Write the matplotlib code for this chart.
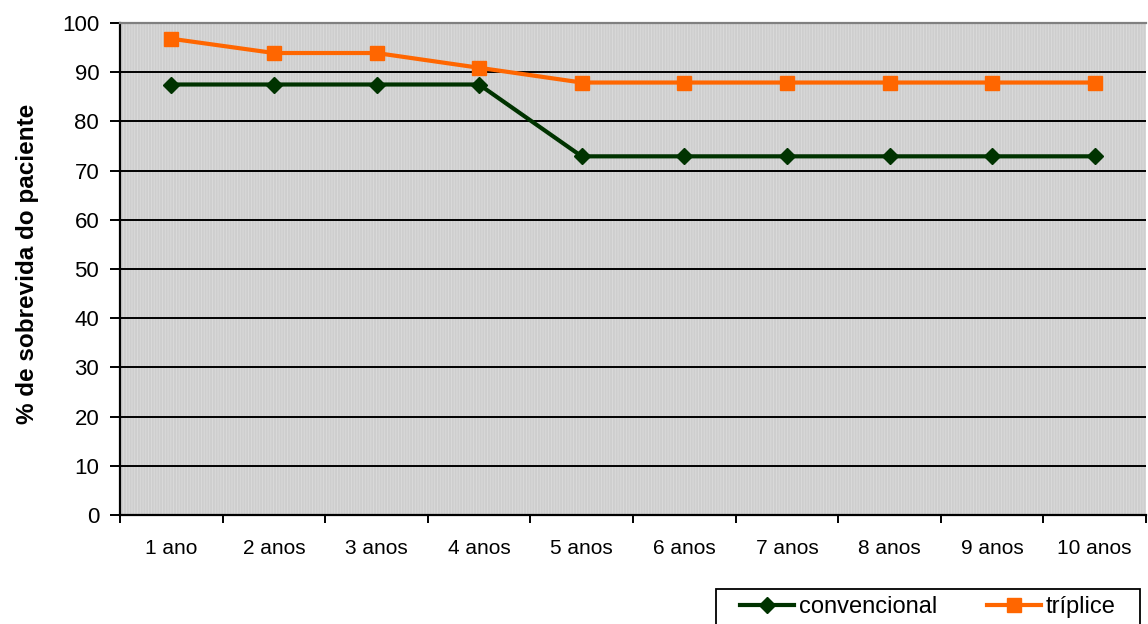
import matplotlib.pyplot as plt
from matplotlib.patches import Rectangle

plt.rcParams['font.family'] = ['Liberation Sans', 'DejaVu Sans']
plt.rcParams['hatch.linewidth'] = 0.6

anos = ['1 ano', '2 anos', '3 anos', '4 anos', '5 anos',
        '6 anos', '7 anos', '8 anos', '9 anos', '10 anos']
convencional = [87.5, 87.5, 87.5, 87.5, 72.9, 72.9, 72.9, 72.9, 72.9, 72.9]
triplice = [96.8, 93.9, 93.9, 90.9, 87.9, 87.9, 87.9, 87.9, 87.9, 87.9]
yticks = list(range(0, 101, 10))

verde = '#003300'
laranja = '#ff6600'

W, H = 1148, 624
fig = plt.figure(figsize=(W / 100, H / 100), dpi=100)
ax = fig.add_axes([120 / W, 1 - 515 / H, 1026 / W, 492 / H])

# fundo cinza com padrao fino
ax.set_facecolor('#cecece')
ax.add_patch(Rectangle((0, 0), 1, 1, transform=ax.transAxes, facecolor='none',
                       edgecolor='#dcdcdc', hatch='||||||', linewidth=0, zorder=0))

x = list(range(len(anos)))
for v in yticks[1:]:
    ax.axhline(v, color='black', lw=1.4, zorder=1)

ax.plot(x, convencional, color=verde, lw=3, marker='D', markersize=8,
        label='convencional', zorder=3, clip_on=False)
ax.plot(x, triplice, color=laranja, lw=3, marker='s', markersize=10.5,
        label='tríplice', zorder=4, clip_on=False)

ax.set_xlim(-0.5, len(anos) - 0.5)
ax.set_ylim(0, 100)
ax.set_yticks(yticks)
ax.set_xticks(x)
ax.set_xticklabels(anos, fontsize=15)
ax.set_xticks([i - 0.5 for i in range(len(anos) + 1)], minor=True)
ax.tick_params(axis='x', which='major', length=0, pad=17)
ax.tick_params(axis='x', which='minor', length=6, width=1.4, direction='out', color='black')
ax.tick_params(axis='y', length=7, width=1.4, direction='out', labelsize=16, pad=8)

for s in ['left', 'bottom']:
    ax.spines[s].set_linewidth(1.6)
    ax.spines[s].set_color('black')
ax.spines['top'].set_color('#808080')
ax.spines['top'].set_linewidth(1.6)
ax.spines['right'].set_visible(False)

ax.set_ylabel('% de sobrevida do paciente', fontsize=17.5, fontweight='bold')
ax.yaxis.set_label_coords(-0.079, 0.51)

# legenda com moldura propria (cortada na borda inferior, como no original)
fig.patches.append(Rectangle((716 / W, -0.02), (1140 - 716) / W, 35 / H + 0.02,
                             transform=fig.transFigure, fill=False,
                             edgecolor='black', linewidth=1.3))
leg = fig.legend(loc='upper left', bbox_to_anchor=(740 / W, 1 - 596 / H), ncol=2,
                 fontsize=17, frameon=False, handlelength=2.3,
                 columnspacing=2.1, handletextpad=0.2, borderpad=0,
                 borderaxespad=0)

fig.savefig('out.png', dpi=100)
